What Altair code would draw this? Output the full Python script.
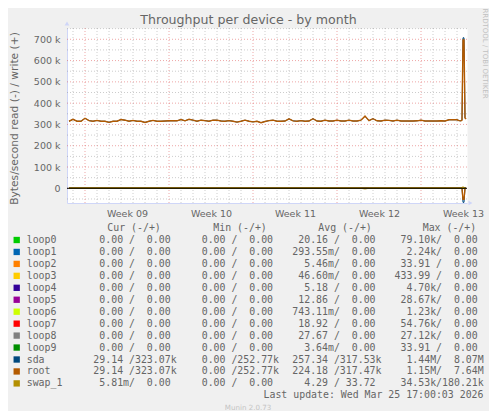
import altair as alt
import pandas as pd

# ---------------- data ----------------
devices = ["loop0", "loop1", "loop2", "loop3", "loop4", "loop5", "loop6",
           "loop7", "loop8", "loop9", "sda", "root", "swap_1"]
device_colors = ["#00CC00", "#0066B3", "#FF8000", "#FFCC00", "#330099", "#990099",
                 "#CCFF00", "#FF0000", "#808080", "#008F00", "#00487D", "#B35A00", "#B38F00"]

# sample times: hours since the start of the month window
hours = list(range(4, 784, 8)) + [784, 788, 790, 792, 794, 796, 798]

# write throughput (kB/s)
root_write_k = [315, 324, 315, 315, 329, 318, 315, 319, 315, 315,
                310, 315, 315, 323, 320, 315, 319, 315, 315, 309,
                315, 319, 315, 315, 316, 317, 317, 317, 323, 317,
                324, 320, 315, 320, 318, 315, 320, 320, 316, 315,
                318, 315, 311, 315, 320, 315, 312, 315, 308, 314,
                318, 320, 315, 315, 316, 326, 317, 315, 318, 315,
                316, 327, 316, 315, 320, 316, 316, 320, 316, 316,
                320, 316, 316, 320, 339, 318, 327, 317, 316, 320,
                319, 316, 320, 316, 316, 316, 316, 317, 320, 316,
                316, 316, 316, 317, 316, 322, 322, 322,
                318, 317, 320, 697, 697, 330, 325]
sda_write_k = root_write_k[:98] + [318, 317, 320, 707, 707, 331, 326]

# read throughput (kB/s), drawn below zero
n_pts = len(hours)
sda_read_k = [0] * 98 + [0, 0, 0, 66, 66, 0, 0]
root_read_k = [0] * 98 + [0, 0, 0, 52, 52, 0, 0]
swap_write_k = [0] * 98 + [0, 0, 0, 8, 0, 0, 0]
swap_read_k = [0] * 74 + [3] + [0] * 23 + [0, 0, 0, 0, 0, 0, 0]
loop_k = [0] * n_pts

# legend table values
cur_read = ["0.00"] * 10 + ["29.14", "29.14", "5.81m"]
cur_write = ["0.00"] * 10 + ["323.07k", "323.07k", "0.00"]
min_read = ["0.00"] * 13
min_write = ["0.00"] * 10 + ["252.77k", "252.77k", "0.00"]
avg_read = ["20.16", "293.55m", "5.46m", "46.60m", "5.18", "12.86", "743.11m",
            "18.92", "27.67", "3.64m", "257.34", "224.18", "4.29"]
avg_write = ["0.00"] * 10 + ["317.53k", "317.47k", "33.72"]
max_read = ["79.10k", "2.24k", "33.91", "433.99", "4.70k", "28.67k", "1.23k",
            "54.76k", "27.12k", "33.91", "1.44M", "1.15M", "34.53k"]
max_write = ["0.00"] * 10 + ["8.07M", "7.64M", "180.21k"]

headers = ["Cur (-/+)", "Min (-/+)", "Avg (-/+)", "Max (-/+)"]
last_update = "Last update: Wed Mar 25 17:00:03 2026"
week_labels = ["Week 09", "Week 10", "Week 11", "Week 12", "Week 13"]
week_label_hours = [120, 288, 456, 624, 792]
y_label_values = [0, 100000, 200000, 300000, 400000, 500000, 600000, 700000]

# grid positions
minor_hours = [12 + 24 * k for k in range(33) if (12 + 24 * k - 36) % 168 != 0]
major_hours = [36 + 168 * k for k in range(5)]
minor_v = [-50000 + 100000 * k for k in range(9)]
major_v = [100000 * k for k in range(8)]

# ---------------- tables ----------------
series_map = {d: (loop_k, loop_k) for d in devices[:10]}
series_map["sda"] = (sda_write_k, sda_read_k)
series_map["root"] = (root_write_k, root_read_k)
series_map["swap_1"] = (swap_write_k, swap_read_k)

rows = []
for d in devices:
    w, r = series_map[d]
    for h, a, b in zip(hours, w, r):
        rows.append({"series": d, "dir": "write", "h": h, "v": a * 1000})
        rows.append({"series": d, "dir": "read", "h": h, "v": -b * 1000})
df = pd.DataFrame(rows)


def fmt(s):
    if s[-1].isalpha():
        num, suf = s[:-1], s[-1]
    else:
        num, suf = s, " "
    return num.rjust(6) + suf


def cell(r, w):
    # zero-width space in front keeps the leading (non-breaking) spaces
    return "\u200b" + (fmt(r) + "/" + fmt(w)).replace(" ", "\u00a0") + "\u200b"


legend_df = pd.DataFrame({
    "name": devices,
    "row": list(range(len(devices))),
    "cur": [cell(a, b) for a, b in zip(cur_read, cur_write)],
    "min": [cell(a, b) for a, b in zip(min_read, min_write)],
    "avg": [cell(a, b) for a, b in zip(avg_read, avg_write)],
    "max": [cell(a, b) for a, b in zip(max_read, max_write)],
})

# ---------------- encodings ----------------
FONT_COLOR = "#666666"
AXIS_COLOR = "#CFD6F8"

x_scale = alt.Scale(domain=[0, 800], nice=False, zero=False)
y_scale = alt.Scale(domain=[-69000, 753000], nice=False, zero=False)
color_scale = alt.Scale(domain=devices, range=device_colors)

label_expr = " : ".join(
    f"datum.value == {h} ? '{t}'" for h, t in zip(week_label_hours, week_labels)
) + " : ''"

x_axis = alt.Axis(values=week_label_hours, labelExpr=label_expr, title=None, grid=False,
                  ticks=False, tickSize=0, labelPadding=5, labelFont="DejaVu Sans",
                  labelFontSize=9.5, labelColor=FONT_COLOR, domainColor=AXIS_COLOR,
                  domainWidth=1, labelFlush=False, labelOverlap=False)
y_axis = alt.Axis(values=y_label_values,
                  labelExpr="datum.value == 0 ? '0' : (datum.value/1000) + ' k'",
                  title=None, grid=False, ticks=False, tickSize=0, labelPadding=7,
                  labelFont="DejaVu Sans", labelFontSize=9.5, labelColor=FONT_COLOR,
                  domainColor=AXIS_COLOR, domainWidth=1, labelOverlap=False)


def X():
    return alt.X("h:Q", scale=x_scale, axis=x_axis)


def Y():
    return alt.Y("v:Q", scale=y_scale, axis=y_axis)


layers = []

# grid
layers.append(alt.Chart(pd.DataFrame({"v": minor_v})).mark_rule(
    color="#8f8f8f", opacity=0.45, strokeDash=[1, 2], strokeWidth=1).encode(y=Y()))
layers.append(alt.Chart(pd.DataFrame({"h": minor_hours})).mark_rule(
    color="#8f8f8f", opacity=0.45, strokeDash=[1, 2], strokeWidth=1).encode(x=X()))
layers.append(alt.Chart(pd.DataFrame({"v": major_v})).mark_rule(
    color="#de4f4f", opacity=0.5, strokeDash=[1, 2], strokeWidth=1).encode(y=Y()))
layers.append(alt.Chart(pd.DataFrame({"h": major_hours})).mark_rule(
    color="#de4f4f", opacity=0.5, strokeDash=[1, 2], strokeWidth=1).encode(x=X()))

# data lines, drawn in legend order
for group, width in [(devices[:10], 1), (["sda"], 1), (["root"], 1.4), (["swap_1"], 1)]:
    layers.append(
        alt.Chart(df).transform_filter(
            alt.FieldOneOfPredicate(field="series", oneOf=group)
        ).mark_line(strokeWidth=width).encode(
            x=X(), y=Y(),
            color=alt.Color("series:N", scale=color_scale, legend=None),
            detail="dir:N",
        )
    )

# zero rule
layers.append(alt.Chart(pd.DataFrame({"v": [0]})).mark_rule(
    color="#000000", strokeWidth=1).encode(y=Y()))

# axis arrows
one = pd.DataFrame({"k": [0]})
layers.append(alt.Chart(one).mark_point(shape="triangle-up", filled=True, size=22,
                                        color=AXIS_COLOR, opacity=1).encode(
    x=alt.value(0), y=alt.value(-4.5)))
layers.append(alt.Chart(one).mark_point(shape="triangle-right", filled=True, size=22,
                                        color=AXIS_COLOR, opacity=1).encode(
    x=alt.value(403.5), y=alt.value(175)))

# title and side texts
layers.append(alt.Chart(one).mark_text(
    text="Throughput per device - by month", font="DejaVu Sans", fontSize=12.6,
    color=FONT_COLOR, align="center", baseline="alphabetic").encode(
    x=alt.value(181.5), y=alt.value(-4)))
layers.append(alt.Chart(one).mark_text(
    text="Bytes/second read (-) / write (+)", font="DejaVu Sans", fontSize=10.7,
    color=FONT_COLOR, align="center", baseline="middle", angle=270).encode(
    x=alt.value(-52), y=alt.value(90.5)))
layers.append(alt.Chart(one).mark_text(
    text="RRDTOOL / TOBI OETIKER", font="DejaVu Sans", fontSize=7,
    color="#c0c0c0", align="center", baseline="middle", angle=90).encode(
    x=alt.value(417.5), y=alt.value(25.5)))

# legend
ROW_Y = "212 + 11.95 * datum.row"
mono = dict(font="DejaVu Sans Mono", fontSize=9.9, color=FONT_COLOR,
            baseline="middle")

layers.append(alt.Chart(legend_df).transform_calculate(py=ROW_Y).mark_square(
    size=40, opacity=1).encode(
    x=alt.value(-50.3), y=alt.Y("py:Q", scale=None),
    color=alt.Color("name:N", scale=color_scale, legend=None)))
layers.append(alt.Chart(legend_df).transform_calculate(py=ROW_Y).mark_text(
    align="left", **mono).encode(
    x=alt.value(-40.3), y=alt.Y("py:Q", scale=None), text="name:N"))

col_x = {"cur": 20.4, "min": 122.8, "avg": 225.3, "max": 327.5}
for col, xpos in col_x.items():
    layers.append(alt.Chart(legend_df).transform_calculate(py=ROW_Y).mark_text(
        align="left", **mono).encode(
        x=alt.value(xpos), y=alt.Y("py:Q", scale=None), text=f"{col}:N"))

header_x = [40.3, 146.3, 251.3, 355.7]
for txt, xpos in zip(headers, header_x):
    layers.append(alt.Chart(one).mark_text(text=txt, align="left", **mono).encode(
        x=alt.value(xpos), y=alt.value(200.05)))

layers.append(alt.Chart(one).mark_text(text=last_update, align="right", **mono).encode(
    x=alt.value(416.5), y=alt.value(367.35)))
layers.append(alt.Chart(one).mark_text(
    text="Munin 2.0.73", font="DejaVu Sans", fontSize=7.1, color="#c4c4c4",
    align="center", baseline="middle").encode(x=alt.value(181), y=alt.value(380.3)))

chart = alt.layer(*layers).properties(
    width=400, height=175,
    autosize=alt.AutoSizeParams(type="none"),
    padding={"left": 59, "top": 20, "right": 22, "bottom": 208},
    background="#f0f0f0",
).configure_view(fill="#ffffff", stroke="transparent")

chart.save("out.html", embed_options={"renderer": "svg", "actions": False})
